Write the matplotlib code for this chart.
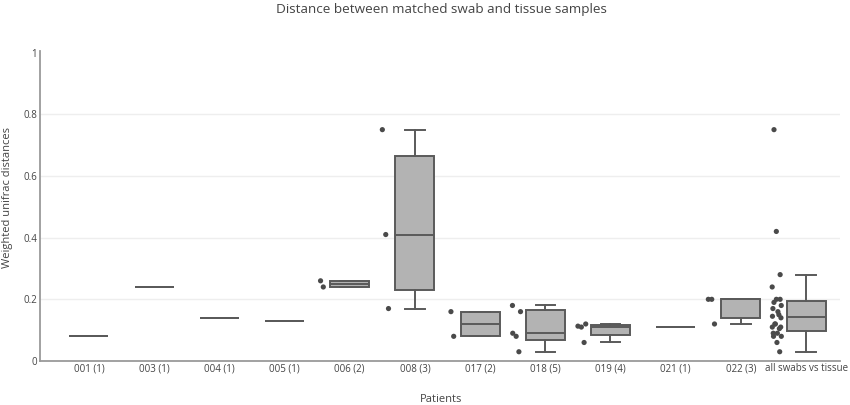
import numpy as np
import matplotlib
matplotlib.use("Agg")
import matplotlib.pyplot as plt

plt.rcParams['font.family'] = ['Open Sans', 'DejaVu Sans']

# weighted unifrac distances per patient (number of matched pairs in brackets)
patients = ["001 (1)", "003 (1)", "004 (1)", "005 (1)", "006 (2)", "008 (3)",
            "017 (2)", "018 (5)", "019 (4)", "021 (1)", "022 (3)", "all swabs vs tissue"]
p001 = [0.08]
p003 = [0.24]
p004 = [0.14]
p005 = [0.13]
p006 = [0.24, 0.26]
p008 = [0.17, 0.41, 0.75]
p017 = [0.08, 0.16]
p018 = [0.03, 0.08, 0.09, 0.16, 0.18]
p019 = [0.06, 0.11, 0.113, 0.12]
p021 = [0.11]
p022 = [0.12, 0.20, 0.20]
all_swabs = [0.03, 0.06, 0.08, 0.08, 0.09, 0.09, 0.105, 0.11, 0.11, 0.12, 0.12, 0.14,
             0.145, 0.15, 0.16, 0.17, 0.18, 0.19, 0.20, 0.20, 0.24, 0.28, 0.42, 0.75]
y_ticks = [0, 0.2, 0.4, 0.6, 0.8, 1]
y_tick_labels = ["0", "0.2", "0.4", "0.6", "0.8", "1"]

groups = [p001, p003, p004, p005, p006, p008, p017, p018, p019, p021, p022, all_swabs]

text_col = "#444444"
box_fill = "#b3b3b3"
edge_col = "#5a5a5a"
dot_col = "#4a4a4a"


def box_stats(vals, label):
    v = np.sort(np.asarray(vals, dtype=float))
    q1, med, q3 = np.percentile(v, [25, 50, 75], method="hazen")
    iqr = q3 - q1
    lo = v[v >= q1 - 1.5 * iqr].min()
    hi = v[v <= q3 + 1.5 * iqr].max()
    return dict(med=med, q1=q1, q3=q3, whislo=lo, whishi=hi, fliers=[], label=label)


stats = [box_stats(g, p) for g, p in zip(groups, patients)]

fig = plt.figure(figsize=(8.5, 4.05), dpi=100)
ax = fig.add_axes([40 / 850, 44 / 405, 800 / 850, 310 / 405])

pos = np.arange(len(groups))
ax.bxp(stats, positions=pos, widths=0.6, capwidths=0.3, patch_artist=True,
       boxprops=dict(facecolor=box_fill, edgecolor=edge_col, linewidth=1.4),
       medianprops=dict(color=edge_col, linewidth=1.4),
       whiskerprops=dict(color=edge_col, linewidth=1.4),
       capprops=dict(color=edge_col, linewidth=1.4),
       showfliers=False, zorder=3)

# all points shown to the left of each box (single-pair patients show none)
for i, g in enumerate(groups):
    if len(g) < 2:
        continue
    k = np.arange(len(g))
    offs = -0.45 + 0.07 * np.sin(k * 2.39996 + 0.7)
    ax.scatter(i + offs, g, s=14, color=dot_col, edgecolor="none", zorder=4)

ax.set_xlim(-0.75, 11.52)
ax.set_ylim(0, 1.005)
ax.set_yticks(y_ticks)
ax.set_yticklabels(y_tick_labels)
ax.set_xticks(pos)
ax.set_xticklabels(patients)

ax.yaxis.grid(True, color="#eeeeee", linewidth=1)
ax.get_ygridlines()[-1].set_visible(False)
ax.get_ygridlines()[0].set_visible(False)
ax.set_axisbelow(True)

for s in ["top", "right"]:
    ax.spines[s].set_visible(False)
for s in ["left", "bottom"]:
    ax.spines[s].set_color("#9a9a9a")
    ax.spines[s].set_linewidth(1.3)
ax.tick_params(length=0, colors=text_col, labelsize=7.0)
ax.tick_params(axis="y", pad=2.2)
ax.tick_params(axis="x", pad=1.5)

fig.text(441 / 850, 1 - 13 / 405, "Distance between matched swab and tissue samples",
         ha="center", va="baseline", fontsize=9.7, color=text_col)
fig.text(441 / 850, 3.5 / 405, "Patients", ha="center", va="baseline",
         fontsize=8.0, color=text_col)
fig.text(7.5 / 850, 207.5 / 405, "Weighted unifrac distances", ha="center", va="center",
         rotation=90, fontsize=8.0, color=text_col)

fig.savefig("out.png", dpi=100)
